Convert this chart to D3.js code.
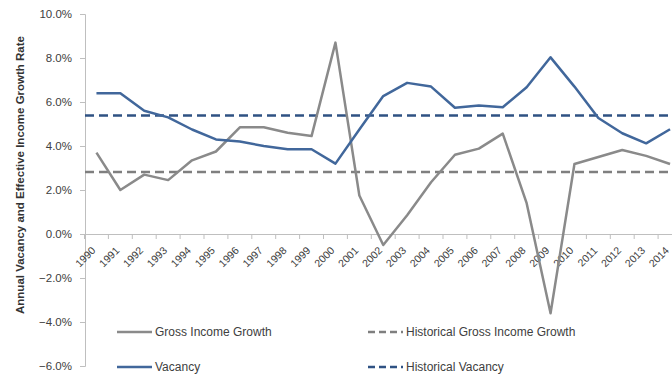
<!DOCTYPE html>
<html><head><meta charset="utf-8">
<script src="https://cdn.jsdelivr.net/npm/d3@7"></script>
<style>body{margin:0;background:#fff;}svg{display:block;}text{font-family:"Liberation Sans",Arial,sans-serif;}</style>
</head><body>
<script>
const years = ["1990","1991","1992","1993","1994","1995","1996","1997","1998","1999","2000","2001","2002","2003","2004","2005","2006","2007","2008","2009","2010","2011","2012","2013","2014"];
const grossIncome = [3.7,2.0,2.7,2.45,3.35,3.75,4.85,4.85,4.6,4.45,8.7,1.75,-0.5,0.85,2.35,3.6,3.88,4.56,1.4,-3.6,3.18,3.5,3.82,3.55,3.18];
const vacancy = [6.4,6.4,5.6,5.3,4.75,4.3,4.2,4.0,3.85,3.85,3.2,4.75,6.27,6.87,6.7,5.74,5.84,5.76,6.67,8.03,6.7,5.27,4.58,4.12,4.76];
const histGross = 2.82;
const histVacancy = 5.39;
const yTicks = [-6,-4,-2,0,2,4,6,8,10];

const W=672,H=377;
const svg=d3.select("body").append("svg").attr("width",W).attr("height",H);
const x=d3.scaleBand().domain(years).range([84.5,682]);
const y=d3.scaleLinear().domain([-6,10]).range([366,14]);
const axisCol="#bfbfbf", txtCol="#404040";

const ya=svg.append("g").attr("transform","translate(85,0)").call(d3.axisLeft(y).tickValues(yTicks).tickSize(5).tickFormat(d=>d3.format(".1f")(d)+"%"));
ya.select(".domain").attr("stroke",axisCol);
ya.selectAll(".tick line").attr("stroke",axisCol);
ya.selectAll(".tick text").attr("fill",txtCol).attr("font-size","11.5px").attr("x",-13);

const xa=svg.append("g").attr("transform",`translate(0,${y(0)})`).call(d3.axisBottom(x).tickSize(0).tickFormat(""));
xa.select(".domain").attr("stroke",axisCol);
svg.append("g").selectAll("line").data(years).join("line")
  .attr("x1",d=>x(d)).attr("x2",d=>x(d)).attr("y1",y(0)).attr("y2",y(0)+5).attr("stroke",axisCol);
svg.append("g").selectAll("text").data(years).join("text")
  .attr("transform",d=>`translate(${x(d)+x.bandwidth()/2-5.5},${y(0)+12}) rotate(-45)`)
  .attr("text-anchor","end").attr("font-size","10.5px").attr("fill",txtCol).attr("dy","0.7em").text(d=>d);

const cx=d=>x(d)+x.bandwidth()/2;
const line=d3.line().x((d,i)=>cx(years[i])).y(d=>y(d));
const grayC="#8a8a8a", blueC="#41679b", blueD="#2f5283", grayD="#7f7f7f";

svg.append("line").attr("x1",85).attr("x2",W).attr("y1",y(histGross)).attr("y2",y(histGross))
  .attr("stroke",grayD).attr("stroke-width",2.5).attr("stroke-dasharray","9,5");
svg.append("line").attr("x1",85).attr("x2",W).attr("y1",y(histVacancy)).attr("y2",y(histVacancy))
  .attr("stroke",blueD).attr("stroke-width",2.5).attr("stroke-dasharray","9,5");

svg.append("path").datum(grossIncome).attr("d",line).attr("fill","none").attr("stroke",grayC).attr("stroke-width",2.5).attr("stroke-linejoin","round");
svg.append("path").datum(vacancy).attr("d",line).attr("fill","none").attr("stroke",blueC).attr("stroke-width",2.5).attr("stroke-linejoin","round");

svg.append("text").attr("transform","translate(20,175) rotate(-90)").attr("text-anchor","middle")
  .attr("dy","0.35em").attr("font-size","11.5px").attr("font-weight","bold").attr("fill","#333")
  .text("Annual Vacancy and Effective Income Growth Rate");

const legend=[
  {name:"Gross Income Growth",c:grayC,dash:null,x:117,y:332},
  {name:"Historical Gross Income Growth",c:grayD,dash:"7,4",x:368,y:332},
  {name:"Vacancy",c:blueC,dash:null,x:117,y:367},
  {name:"Historical Vacancy",c:blueD,dash:"7,4",x:368,y:367}
];
const lg=svg.append("g").selectAll("g").data(legend).join("g").attr("transform",d=>`translate(${d.x},${d.y})`);
lg.append("line").attr("x1",0).attr("x2",35).attr("stroke",d=>d.c).attr("stroke-width",2.5).attr("stroke-dasharray",d=>d.dash);
lg.append("text").attr("x",38).attr("dy","0.35em").attr("font-size","12px").attr("fill",txtCol).text(d=>d.name);
</script>
</body></html>
